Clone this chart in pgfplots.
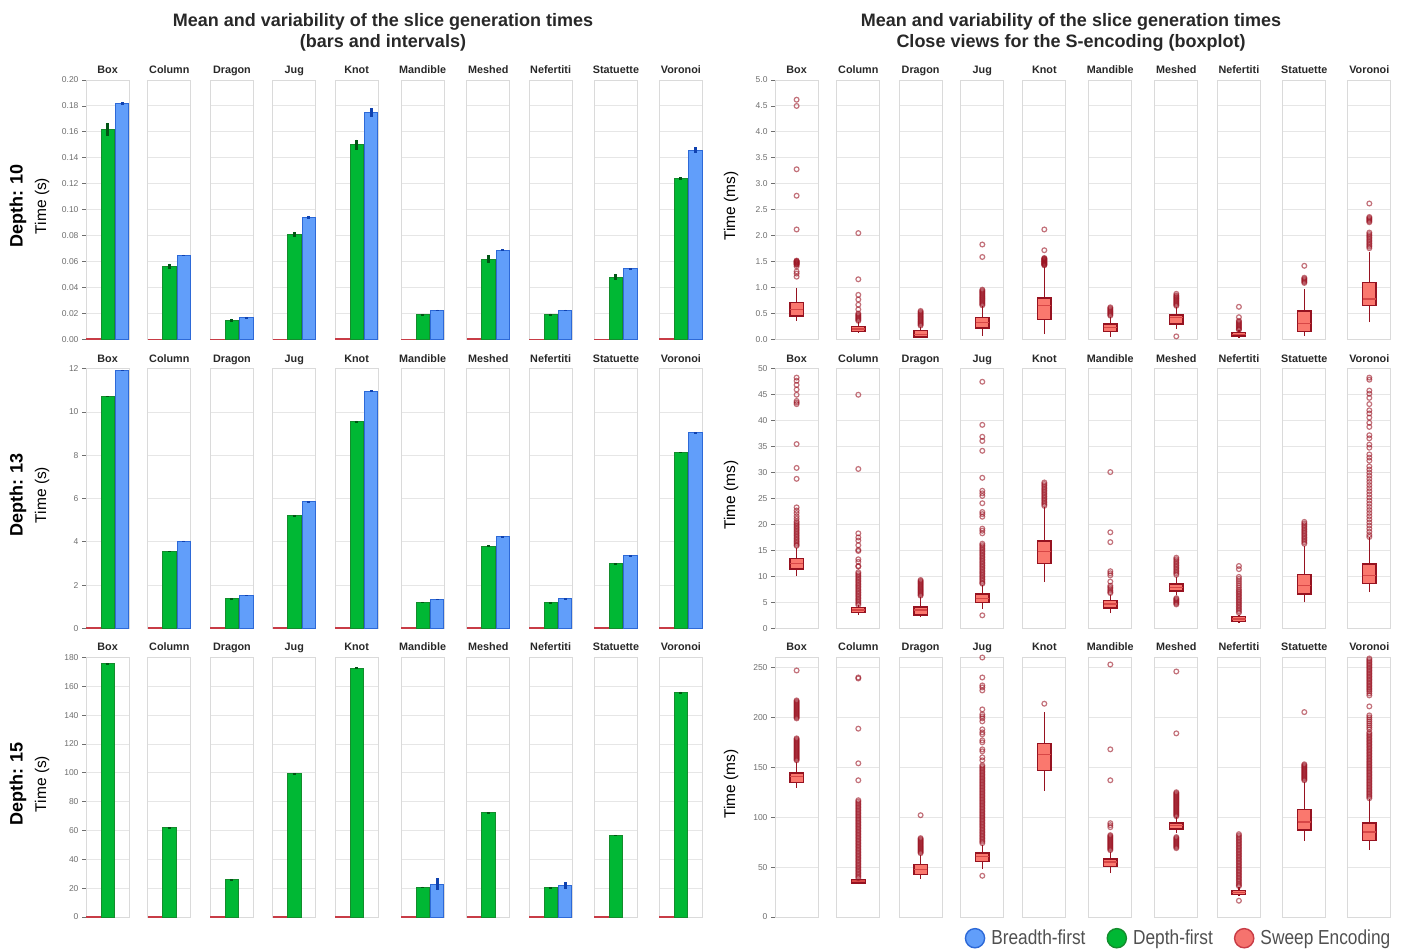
\documentclass[border=0pt]{standalone}
\usepackage{pgfplots}
\pgfplotsset{compat=1.18}
\usepgfplotslibrary{statistics}
\usepackage{fontspec}
\setmainfont{Liberation Sans}
\newfontfamily\legfont[FakeStretch=0.852]{Liberation Sans}
\definecolor{greenfill}{RGB}{0,184,52}
\definecolor{greendraw}{RGB}{20,140,45}
\definecolor{greenerr}{RGB}{0,85,20}
\definecolor{bluefill}{RGB}{97,158,250}
\definecolor{bluedraw}{RGB}{45,105,215}
\definecolor{blueerr}{RGB}{15,65,175}
\definecolor{redfill}{RGB}{245,115,110}
\definecolor{reddraw}{RGB}{200,60,70}
\definecolor{boxfill}{RGB}{250,120,110}
\definecolor{boxdraw}{RGB}{150,18,32}
\definecolor{medcol}{RGB}{215,70,70}
\definecolor{outcol}{RGB}{155,20,35}
\definecolor{gridc}{RGB}{230,230,230}
\definecolor{framec}{RGB}{218,218,218}
\definecolor{tickc}{RGB}{110,110,110}
\definecolor{titlec}{RGB}{40,40,40}
\definecolor{legc}{RGB}{80,80,80}
\newcommand{\fs}[1]{\fontsize{#1}{#1}\selectfont}
\pgfplotsset{
 facet/.style={scale only axis, width=43.2pt, height=259.5pt, anchor=south west,
   xtick=\empty, ytick pos=left, tick align=outside, major tick length=4pt,
   tick style={draw=tickc, line width=0.8pt},
   axis line style={draw=framec, line width=0.9pt},
   ymajorgrids, major grid style={draw=gridc, line width=0.9pt},
   yticklabel style={font=\fs{8.5}, text=tickc, /pgf/number format/assume math mode=true},
   title style={font=\bfseries\fs{10.8}, text=titlec, at={(0.5,1)}, anchor=base, yshift=0.8pt},
   clip=false},
 inner/.style={yticklabels={}, tick style={draw=none}},
 barax/.style={facet, xmin=-0.5, xmax=2.5},
 boxax/.style={facet, xmin=-1, xmax=1,
   boxplot/every box/.style={draw=boxdraw, fill=boxfill, line width=1.4pt},
   boxplot/every whisker/.style={draw=boxdraw, line width=1.4pt},
   boxplot/every median/.style={draw=medcol, line width=1.3pt}},
 La/.style={ymin=0, ymax=0.2, ytick={0,0.02,0.04,0.06,0.08,0.1,0.12,0.14,0.16,0.18,0.2},
   yticklabel style={/pgf/number format/fixed, /pgf/number format/fixed zerofill, /pgf/number format/precision=2}},
 Lb/.style={ymin=0, ymax=12, ytick={0,2,4,6,8,10,12}},
 Lc/.style={ymin=0, ymax=180, ytick={0,20,40,60,80,100,120,140,160,180}},
 Ra/.style={ymin=0, ymax=5, ytick={0,0.5,1,1.5,2,2.5,3,3.5,4,4.5,5},
   yticklabel style={/pgf/number format/fixed, /pgf/number format/fixed zerofill, /pgf/number format/precision=1}},
 Rb/.style={ymin=0, ymax=50, ytick={0,5,10,15,20,25,30,35,40,45,50}},
 Rc/.style={ymin=0, ymax=260, ytick={0,50,100,150,200,250}},
 circleleg/.style={legend image code/.code={\draw[##1,line width=1.4pt] (0pt,0pt) circle (9.6pt);
   \path[draw=none,fill=none] (0pt,19.6pt) -- (0pt,-9.6pt);}},
}
% #1 style, #2 x, #3 title, #4 sweep, #5 depth-first, #6 its error, #7 breadth-first (-1 = none), #8 its error
\newcommand{\barfacet}[8]{%
 \begin{axis}[barax,#1,at={(#2pt,\rowy)},title={#3}]
  \addplot[ybar,bar shift=0pt,bar width=13.4pt,fill=redfill,draw=reddraw,line width=0.7pt] coordinates {(0,#4)};
  \addplot[ybar,bar shift=0pt,bar width=13.4pt,fill=greenfill,draw=greendraw,line width=0.8pt,
    error bars/.cd,y dir=both,y explicit,error bar style={line width=3pt,draw=greenerr},error mark=none]
    coordinates {(1,#5) +- (0,#6)};
  \ifdim #7pt<0pt\relax\else
  \addplot[ybar,bar shift=0pt,bar width=13.4pt,fill=bluefill,draw=bluedraw,line width=0.8pt,
    error bars/.cd,y dir=both,y explicit,error bar style={line width=3pt,draw=blueerr},error mark=none]
    coordinates {(2,#7) +- (0,#8)};
  \fi
 \end{axis}}
% #1 style, #2 x, #3 title, #4-#8 whiskers/quartiles/median, #9 outliers
\newcommand{\boxfacet}[9]{%
 \begin{axis}[boxax,#1,at={(#2pt,\rowy)},title={#3}]
  \addplot[boxplot prepared={draw direction=y,draw position=0,lower whisker=#4,lower quartile=#5,median=#6,
     upper quartile=#7,upper whisker=#8,box extend=0.63,whisker extend=0},
     draw=boxdraw,fill=boxfill,line width=1.4pt] coordinates {};
  \addplot[only marks,mark=o,mark size=2.4pt,mark options={draw=outcol,line width=1.2pt,draw opacity=0.6}]
     table[row sep=\\,x expr=0,y index=0] {#9};
 \end{axis}}
\begin{document}
\begin{tikzpicture}
\useasboundingbox (0pt,0pt) rectangle (1405pt,-949pt);
% titles
\node[font=\bfseries\fs{18}, text=titlec, anchor=base] at (383pt,-26.2pt) {Mean and variability of the slice generation times};
\node[font=\bfseries\fs{18}, text=titlec, anchor=base] at (383pt,-47.2pt) {(bars and intervals)};
\node[font=\bfseries\fs{18}, text=titlec, anchor=base] at (1071pt,-26.2pt) {Mean and variability of the slice generation times};
\node[font=\bfseries\fs{18}, text=titlec, anchor=base] at (1071pt,-47.2pt) {Close views for the S-encoding (boxplot)};
% row labels
\node[rotate=90, font=\bfseries\fs{18}] at (18pt,-206pt) {Depth: 10};
\node[rotate=90, font=\bfseries\fs{18}] at (18pt,-495pt) {Depth: 13};
\node[rotate=90, font=\bfseries\fs{18}] at (18pt,-784pt) {Depth: 15};
\node[rotate=90, font=\fs{15.5}] at (42pt,-206pt) {Time (s)};
\node[rotate=90, font=\fs{15.5}] at (42pt,-495pt) {Time (s)};
\node[rotate=90, font=\fs{15.5}] at (42pt,-784pt) {Time (s)};
\node[rotate=90, font=\fs{15.5}] at (731pt,-206pt) {Time (ms)};
\node[rotate=90, font=\fs{15.5}] at (731pt,-495pt) {Time (ms)};
\node[rotate=90, font=\fs{15.5}] at (731pt,-784pt) {Time (ms)};

% ---------------- Depth 10, bars ----------------
\def\rowy{-339.5pt}
\barfacet{La}{86}{Box}{0.0008}{0.162}{0.005}{0.182}{0.001}
\barfacet{La,inner}{147.7}{Column}{0.0005}{0.0565}{0.002}{0.0648}{0.0006}
\barfacet{La,inner}{210.3}{Dragon}{0.0005}{0.0148}{0.0012}{0.0168}{0.0006}
\barfacet{La,inner}{272.7}{Jug}{0.0005}{0.081}{0.002}{0.094}{0.0012}
\barfacet{La,inner}{335}{Knot}{0.0008}{0.150}{0.004}{0.175}{0.0035}
\barfacet{La,inner}{401}{Mandible}{0.0005}{0.019}{0.0004}{0.0225}{0.0005}
\barfacet{La,inner}{466.7}{Meshed}{0.0008}{0.062}{0.003}{0.069}{0.0008}
\barfacet{La,inner}{529}{Nefertiti}{0.0005}{0.019}{0.001}{0.0225}{0.0006}
\barfacet{La,inner}{594.3}{Statuette}{0.0005}{0.048}{0.0025}{0.0545}{0.0006}
\barfacet{La,inner}{659.3}{Voronoi}{0.001}{0.124}{0.001}{0.146}{0.002}
% ---------------- Depth 13, bars ----------------
\def\rowy{-628.3pt}
\barfacet{Lb}{86}{Box}{0.05}{10.72}{0.03}{11.93}{0.03}
\barfacet{Lb,inner}{147.7}{Column}{0.04}{3.56}{0.02}{4.04}{0.02}
\barfacet{Lb,inner}{210.3}{Dragon}{0.04}{1.36}{0.02}{1.53}{0.02}
\barfacet{Lb,inner}{272.7}{Jug}{0.04}{5.21}{0.02}{5.86}{0.02}
\barfacet{Lb,inner}{335}{Knot}{0.05}{9.56}{0.03}{10.97}{0.03}
\barfacet{Lb,inner}{401}{Mandible}{0.04}{1.20}{0.02}{1.34}{0.02}
\barfacet{Lb,inner}{466.7}{Meshed}{0.05}{3.81}{0.02}{4.24}{0.02}
\barfacet{Lb,inner}{529}{Nefertiti}{0.04}{1.19}{0.02}{1.36}{0.02}
\barfacet{Lb,inner}{594.3}{Statuette}{0.04}{2.99}{0.02}{3.35}{0.02}
\barfacet{Lb,inner}{659.3}{Voronoi}{0.05}{8.13}{0.03}{9.04}{0.03}
% ---------------- Depth 15, bars ----------------
\def\rowy{-917pt}
\barfacet{Lc}{86}{Box}{0.8}{175.8}{0.5}{-1}{0}
\barfacet{Lc,inner}{147.7}{Column}{0.6}{61.9}{0.3}{-1}{0}
\barfacet{Lc,inner}{210.3}{Dragon}{0.6}{25.9}{0.3}{-1}{0}
\barfacet{Lc,inner}{272.7}{Jug}{0.6}{99.3}{0.3}{-1}{0}
\barfacet{Lc,inner}{335}{Knot}{0.8}{172.6}{0.7}{-1}{0}
\barfacet{Lc,inner}{401}{Mandible}{0.6}{20.8}{0.3}{22.7}{4.3}
\barfacet{Lc,inner}{466.7}{Meshed}{0.6}{72.3}{0.3}{-1}{0}
\barfacet{Lc,inner}{529}{Nefertiti}{0.6}{20.3}{0.3}{22.0}{2.4}
\barfacet{Lc,inner}{594.3}{Statuette}{0.6}{56.6}{0.3}{-1}{0}
\barfacet{Lc,inner}{659.3}{Voronoi}{0.8}{155.7}{0.7}{-1}{0}

% ---------------- Depth 10, boxplots ----------------
\def\rowy{-339.5pt}
\boxfacet{Ra}{775}{Box}{0.36}{0.45}{0.58}{0.71}{1.00}{4.62\\4.50\\3.28\\2.77\\2.12\\1.52\\1.51\\1.50\\1.49\\1.48\\1.47\\1.46\\1.45\\1.44\\1.41\\1.31\\1.27\\1.21\\}
\boxfacet{Ra,inner}{836.7}{Column}{0.13}{0.155}{0.205}{0.255}{0.34}{2.05\\1.16\\0.86\\0.77\\0.67\\0.58\\0.50\\0.48\\0.46\\0.44\\0.42\\0.40\\0.38\\0.36\\}
\boxfacet{Ra,inner}{899}{Dragon}{0.03}{0.05}{0.10}{0.17}{0.25}{0.55\\0.53\\0.51\\0.49\\0.47\\0.45\\0.43\\0.41\\0.39\\0.37\\0.35\\0.33\\0.31\\0.29\\0.27\\}
\boxfacet{Ra,inner}{960.7}{Jug}{0.065}{0.225}{0.33}{0.42}{0.64}{1.83\\1.59\\0.96\\0.94\\0.92\\0.90\\0.88\\0.86\\0.84\\0.82\\0.80\\0.78\\0.76\\0.74\\0.72\\0.70\\0.68\\0.66\\}
\boxfacet{Ra,inner}{1022.7}{Knot}{0.10}{0.38}{0.65}{0.80}{1.40}{2.12\\1.72\\1.57\\1.56\\1.55\\1.54\\1.53\\1.52\\1.51\\1.50\\1.49\\1.48\\1.47\\1.46\\1.45\\1.44\\1.43\\}
\boxfacet{Ra,inner}{1088.7}{Mandible}{0.05}{0.15}{0.225}{0.30}{0.44}{0.62\\0.60\\0.58\\0.56\\0.54\\0.52\\0.50\\0.48\\0.46\\}
\boxfacet{Ra,inner}{1154.7}{Meshed}{0.20}{0.30}{0.42}{0.475}{0.62}{0.88\\0.85\\0.83\\0.81\\0.79\\0.77\\0.75\\0.73\\0.71\\0.69\\0.67\\0.65\\0.06\\}
\boxfacet{Ra,inner}{1217.3}{Nefertiti}{0.03}{0.065}{0.10}{0.13}{0.18}{0.63\\0.43\\0.36\\0.34\\0.32\\0.30\\0.28\\0.26\\0.24\\0.22\\0.20\\0.19\\}
\boxfacet{Ra,inner}{1282.7}{Statuette}{0.07}{0.15}{0.31}{0.55}{0.97}{1.42\\1.19\\1.17\\1.15\\1.13\\1.11\\1.09\\}
\boxfacet{Ra,inner}{1347.7}{Voronoi}{0.33}{0.65}{0.78}{1.10}{1.68}{2.62\\2.36\\2.34\\2.32\\2.30\\2.28\\2.26\\2.06\\2.03\\2.00\\1.97\\1.94\\1.91\\1.88\\1.85\\1.82\\1.79\\1.76\\}
% ---------------- Depth 13, boxplots ----------------
\def\rowy{-628.3pt}
\boxfacet{Rb}{775}{Box}{10.0}{11.4}{12.5}{13.4}{15.5}{48.3\\47.7\\46.9\\46.0\\45.0\\43.8\\43.5\\43.2\\35.5\\30.9\\28.8\\23.3\\22.7\\22.2\\21.6\\21.1\\20.6\\20.3\\20.0\\19.7\\19.4\\19.1\\18.8\\18.5\\18.2\\17.9\\17.6\\17.3\\17.0\\16.7\\16.4\\16.1\\15.9\\}
\boxfacet{Rb,inner}{836.7}{Column}{2.6}{3.1}{3.5}{4.0}{4.4}{45.0\\30.7\\18.3\\17.5\\16.9\\16.0\\15.1\\14.9\\13.3\\12.8\\12.0\\11.9\\10.8\\10.5\\10.2\\9.9\\9.6\\9.3\\9.0\\8.7\\8.4\\8.1\\7.8\\7.5\\7.2\\6.9\\6.6\\6.3\\6.0\\5.7\\5.4\\5.1\\4.8\\4.5\\}
\boxfacet{Rb,inner}{899}{Dragon}{2.1}{2.6}{3.5}{4.1}{6.1}{9.3\\9.1\\8.9\\8.7\\8.5\\8.3\\8.1\\7.9\\7.7\\7.5\\7.3\\7.1\\6.9\\6.7\\6.5\\6.3\\}
\boxfacet{Rb,inner}{960.7}{Jug}{3.7}{5.0}{5.8}{6.6}{8.4}{47.5\\39.2\\36.9\\36.1\\34.2\\29.0\\26.5\\26.0\\25.5\\24.1\\22.4\\22.0\\21.5\\19.2\\18.8\\18.3\\16.3\\16.0\\15.7\\15.4\\15.1\\14.8\\14.5\\14.2\\13.9\\13.6\\13.3\\13.0\\12.7\\12.4\\12.1\\11.8\\11.5\\11.2\\10.9\\10.6\\10.3\\10.0\\9.7\\9.4\\9.1\\8.8\\8.6\\2.5\\}
\boxfacet{Rb,inner}{1022.7}{Knot}{8.9}{12.5}{14.8}{16.8}{23.3}{28.1\\27.8\\27.5\\27.2\\26.9\\26.6\\26.3\\26.0\\25.7\\25.4\\25.1\\24.8\\24.5\\24.2\\23.9\\23.6\\}
\boxfacet{Rb,inner}{1088.7}{Mandible}{2.9}{3.9}{4.7}{5.4}{6.5}{30.1\\18.5\\16.6\\11.0\\10.6\\10.2\\9.0\\8.2\\7.9\\7.6\\7.3\\7.0\\6.8\\}
\boxfacet{Rb,inner}{1154.7}{Meshed}{6.4}{7.2}{7.9}{8.5}{9.9}{13.6\\13.3\\13.0\\12.7\\12.4\\12.1\\11.8\\11.5\\11.2\\10.9\\10.6\\10.3\\5.8\\5.6\\5.4\\5.2\\5.0\\4.8\\4.6\\}
\boxfacet{Rb,inner}{1217.3}{Nefertiti}{1.0}{1.35}{1.8}{2.25}{2.6}{12.0\\11.4\\9.9\\9.5\\9.1\\8.7\\8.3\\7.9\\7.5\\7.2\\6.9\\6.6\\6.3\\6.0\\5.7\\5.4\\5.1\\4.8\\4.5\\4.2\\3.9\\3.6\\3.3\\3.0\\}
\boxfacet{Rb,inner}{1282.7}{Statuette}{5.0}{6.6}{8.2}{10.4}{15.9}{20.5\\20.2\\19.9\\19.6\\19.3\\19.0\\18.7\\18.4\\18.1\\17.8\\17.5\\17.2\\16.9\\16.6\\16.3\\}
\boxfacet{Rb,inner}{1347.7}{Voronoi}{6.9}{8.6}{10.2}{12.4}{17.5}{48.3\\47.9\\45.8\\45.2\\44.4\\43.2\\42.0\\41.4\\40.6\\39.6\\38.8\\37.2\\36.6\\35.4\\34.8\\33.5\\32.9\\32.3\\31.2\\30.6\\30.0\\29.4\\28.8\\28.2\\27.6\\27.0\\26.4\\25.8\\25.2\\24.6\\24.0\\23.4\\22.8\\22.2\\21.6\\21.0\\20.4\\19.8\\19.2\\18.6\\18.0\\17.6\\}
% ---------------- Depth 15, boxplots ----------------
\def\rowy{-917pt}
\boxfacet{Rc}{775}{Box}{129.7}{134.7}{140.7}{144.3}{155}{247\\217\\216\\215\\214\\213\\212\\211\\210\\209\\208\\207\\206\\205\\204\\203\\202\\201\\200\\199\\179\\178\\177\\176\\175\\174\\173\\172\\171\\170\\169\\168\\167\\166\\165\\164\\163\\162\\161\\160\\159\\158\\157\\}
\boxfacet{Rc,inner}{836.7}{Column}{32.7}{34}{36}{37.7}{38.5}{240\\239\\188.7\\154\\137\\117\\115.5\\114\\112.5\\111\\109.5\\108\\106.5\\105\\103.5\\102\\100.5\\99\\97.5\\96\\94.5\\93\\91.5\\90\\88.5\\87\\85.5\\84\\82.5\\81\\79.5\\78\\76.5\\75\\73.5\\72\\70.5\\69\\67.5\\66\\64.5\\63\\61.5\\60\\58.5\\57\\55.5\\54\\52.5\\51\\49.5\\48\\46.5\\45\\43.5\\42\\40.5\\39\\}
\boxfacet{Rc,inner}{899}{Dragon}{38}{42.7}{47.7}{52.7}{62}{102\\79\\78\\77\\76\\75\\74\\73\\72\\71\\70\\69\\68\\67\\66\\65\\64\\}
\boxfacet{Rc,inner}{960.7}{Jug}{47.7}{55.7}{60.3}{64}{72}{260\\240\\232\\230\\227\\208\\203\\201\\199\\196\\188\\185\\183\\177\\175\\168\\166\\160\\157\\152\\150.5\\149\\147.5\\146\\144.5\\143\\141.5\\140\\138.5\\137\\135.5\\134\\132.5\\131\\129.5\\128\\126.5\\125\\123.5\\122\\120.5\\119\\117.5\\116\\114.5\\113\\111.5\\110\\108.5\\107\\105.5\\104\\102.5\\101\\99.5\\98\\96.5\\95\\93.5\\92\\90.5\\89\\87.5\\86\\84.5\\83\\81.5\\80\\78.5\\77\\75.5\\74\\41.3\\}
\boxfacet{Rc,inner}{1022.7}{Knot}{126.3}{147}{162.7}{173.7}{205}{213.7\\}
\boxfacet{Rc,inner}{1088.7}{Mandible}{43.7}{50.7}{55}{58.3}{65}{253\\168\\137\\94\\92\\90\\82\\81\\80\\79\\78\\77\\76\\75\\74\\73\\72\\71\\70\\69\\68\\67\\}
\boxfacet{Rc,inner}{1154.7}{Meshed}{83.7}{88.3}{91.7}{94.3}{100}{246\\184\\125\\124\\123\\122\\121\\120\\119\\118\\117\\116\\115\\114\\113\\112\\111\\110\\109\\108\\107\\106\\105\\104\\103\\102\\101\\80\\79\\78\\77\\76\\75\\74\\73\\72\\71\\70\\69\\}
\boxfacet{Rc,inner}{1217.3}{Nefertiti}{21}{22.3}{24.3}{26.3}{30}{83\\81.5\\80\\78.5\\77\\75.5\\74\\72.5\\71\\69.5\\68\\66.5\\65\\63.5\\62\\60.5\\59\\57.5\\56\\54.5\\53\\51.5\\50\\48.5\\47\\45.5\\44\\42.5\\41\\39.5\\38\\36.5\\35\\33.5\\32\\31\\16.3\\}
\boxfacet{Rc,inner}{1282.7}{Statuette}{76.3}{87.3}{95.3}{108}{135}{205.3\\153\\152\\151\\150\\149\\148\\147\\146\\145\\144\\143\\142\\141\\140\\139\\138\\137\\}
\boxfacet{Rc,inner}{1347.7}{Voronoi}{67}{76.7}{85.3}{94.3}{118}{259\\257.5\\256\\254.5\\253\\251.5\\250\\248.5\\247\\245.5\\244\\242.5\\241\\239.5\\238\\236.5\\235\\233.5\\232\\230.5\\229\\227.5\\226\\224\\222\\211\\202\\200\\198\\196\\194\\192\\190\\188\\185\\183.5\\182\\180.5\\179\\177.5\\176\\174.5\\173\\171.5\\170\\168.5\\167\\165.5\\164\\162.5\\161\\159.5\\158\\156.5\\155\\153.5\\152\\150.5\\149\\147.5\\146\\144.5\\143\\141.5\\140\\138.5\\137\\135.5\\134\\132.5\\131\\129.5\\128\\126.5\\125\\123.5\\122\\120.5\\119\\}

% ---------------- legend ----------------
\begin{axis}[hide axis, scale only axis, width=10pt, height=10pt, anchor=north east, at={(1395.5pt,-916.4pt)},
  xmin=0, xmax=1, ymin=0, ymax=1,
  legend columns=3,
  legend style={at={(1,1)}, anchor=north east, draw=none, fill=none, font=\legfont\fs{20.3}, text=legc,
    /tikz/every odd column/.append style={column sep=4pt},
    /tikz/every even column/.append style={column sep=19pt}},
  legend cell align=left]
\addlegendimage{circleleg, draw=bluedraw, fill=bluefill}
\addlegendentry{Breadth-first}
\addlegendimage{circleleg, draw=greendraw, fill=greenfill}
\addlegendentry{Depth-first}
\addlegendimage{circleleg, draw=reddraw, fill=redfill}
\addlegendentry{Sweep Encoding}
\end{axis}
\end{tikzpicture}
\end{document}
